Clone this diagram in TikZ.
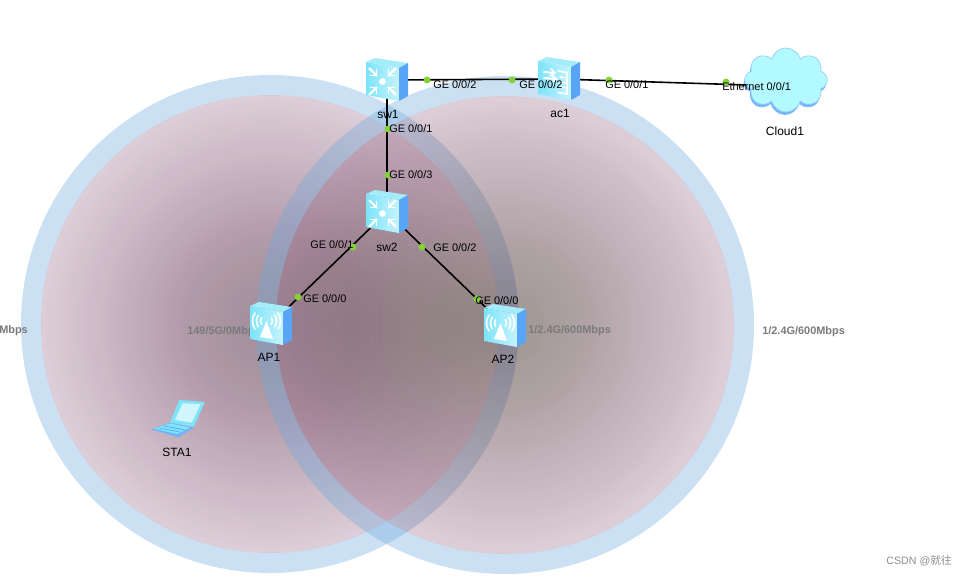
\documentclass[tikz,border=0pt]{standalone}
\usepackage{fontspec}
\setmainfont{Liberation Sans}
\newfontfamily\cjkfont{Noto Sans CJK SC}
\usetikzlibrary{shapes.symbols}
\definecolor{cellring}{RGB}{110,170,220}
\definecolor{cellbase}{RGB}{138,82,118}
\definecolor{cellwarm}{RGB}{92,56,78}
\definecolor{celldark}{RGB}{88,72,66}
\definecolor{portdot}{RGB}{130,212,52}
\definecolor{facefront}{RGB}{125,228,250}
\definecolor{facetop}{RGB}{165,236,250}
\definecolor{faceside}{RGB}{88,165,248}
\definecolor{cloudfill}{RGB}{178,250,255}
\definecolor{cloudedge}{RGB}{150,205,250}
\tikzset{
  devnode/.style={inner sep=0pt,minimum width=24.75pt,minimum height=27pt},
  port/.style={circle,fill=portdot,inner sep=0pt,minimum size=5.2pt},
  portlabel/.style={font=\fontsize{8.2pt}{9pt}\selectfont,inner sep=0pt,anchor=west},
  devlabel/.style={font=\fontsize{9pt}{10pt}\selectfont,inner sep=0pt},
  ratelabel/.style={font=\fontsize{8.2pt}{9pt}\selectfont\bfseries,text=black!52,inner sep=0pt,anchor=west},
  cloudshape/.style={cloud,cloud puffs=8,aspect=1.3,inner sep=0pt,minimum width=62pt,minimum height=48pt},
  link/.style={line width=1.2pt,black},
  glyph/.style={white,line width=1.2pt,line cap=round,line join=round},
  devbox/.pic={
    \fill[facetop] (-21,-18) -- (-12,-22) -- (21,-17) -- (12,-12) -- cycle;
    \shade[left color=facefront,right color=facefront!45!white] (-21,-18) -- (12,-12) -- (12,21) -- (-21,15) -- cycle;
    \fill[faceside] (12,-12) -- (21,-17) -- (21,16) -- (12,21) -- cycle;
  },
  swglyph/.pic={
    \fill[white] (-4.5,1.5) circle (3.4);
    \foreach \sx/\sy in {-1/-1,1/-1,-1/1,1/1} {
      \draw[glyph,line width=1.7pt] (-4.5+\sx*6,1.5+\sy*6) -- (-4.5+\sx*13,1.5+\sy*13);
      \draw[glyph] (-4.5+\sx*6,1.5+\sy*12) -- (-4.5+\sx*6,1.5+\sy*6) -- (-4.5+\sx*12,1.5+\sy*6);
    }
  },
  acglyph/.pic={
    \draw[glyph,line width=1.5pt] (-15,-7) -- (-5,-6) (-15,-1) -- (-3,0);
    \draw[glyph] (-8,-10) -- (-4,-6) -- (-9,-3) (-7,-3.5) -- (-2,0) -- (-7,3);
    \draw[glyph] (-1,-8) -- (8,-6.5) -- (8,15) -- (-1,13.5);
    \draw[glyph] (1,-2) -- (6,-1.2) (1,3) -- (6,3.8) (1,8) -- (6,8.8);
  },
  apglyph/.pic={
    \fill[white] (-4.5,-3) -- (2,15) -- (-11,13) -- cycle;
    \foreach \rr in {6,10,14} {
      \draw[glyph] (-4.5,-3) ++(-35:\rr) arc (-35:35:\rr);
      \draw[glyph] (-4.5,-3) ++(145:\rr) arc (145:215:\rr);
    }
  },
  laptop/.pic={
    \fill[facefront] (1.3,-18) -- (26.7,-16) -- (16,8.7) -- (-8,4.7) -- cycle;
    \fill[facefront!35!white] (4.7,-14.7) -- (22.7,-14) -- (13.7,4.7) -- (-3,2) -- cycle;
    \fill[faceside!85!white] (-26.7,11.3) -- (-8,4.7) -- (16,9.7) -- (0.3,19.3) -- cycle;
    \fill[facefront] (-24,10.6) -- (-8,5.4) -- (12,9.6) -- (-1,16) -- cycle;
    \draw[faceside,line width=0.5pt] (-19,10) -- (2,14) (-14,8) -- (7,12);
  },
}
\begin{document}
\begin{tikzpicture}[x=0.75pt,y=-0.75pt]
    \useasboundingbox (0,0) rectangle (967,576);
    % coverage areas
    \foreach \cx/\cy/\cc in {270/324/cellwarm,505/325/celldark} {
        \fill[cellring,fill opacity=0.36,even odd rule] (\cx,\cy) circle (249) (\cx,\cy) circle (229);
        \fill[cellbase,fill opacity=0.28] (\cx,\cy) circle (229);
        \foreach \k in {1,...,45}
            \fill[\cc,fill opacity=0.0125] (\cx,\cy) circle ({229*\k/45});
    }
    % rates
    \node[ratelabel] (rate0) at (-1,331) {Mbps};
    \node[ratelabel] (rate1) at (187,332) {149/5G/0Mbps};
    \node[ratelabel] (rate2) at (528,331) {1/2.4G/600Mbps};
    \node[ratelabel] (rate3) at (762,332) {1/2.4G/600Mbps};
    % devices
    \node[devnode] (sw1) at (387,80) {};
    \node[devnode] (sw2) at (387,212) {};
    \node[devnode] (ac1) at (559,79) {};
    \node[devnode] (AP1) at (271,324) {};
    \node[devnode] (AP2) at (505,326) {};
    \node[cloudshape,fill=faceside!80!white] (Cloud1shade) at (785,83) {};
    \node[cloudshape,fill=cloudfill,draw=cloudedge,line width=0.5pt] (Cloud1) at (786,80) {};
    % links
    \draw[link] (sw1) -- (ac1);
    \draw[link] (ac1) -- (Cloud1.187);
    \draw[link] (sw1) -- (sw2);
    \draw[link] (sw2) -- (AP1);
    \draw[link] (sw2) -- (AP2);
    \pic at (sw1) {devbox};
    \pic at (sw1) {swglyph};
    \pic at (sw2) {devbox};
    \pic at (sw2) {swglyph};
    \pic at (ac1) {devbox};
    \pic at (ac1) {acglyph};
    \pic at (AP1) {devbox};
    \pic at (AP1) {apglyph};
    \pic at (AP2) {devbox};
    \pic at (AP2) {apglyph};
    \node[inner sep=0pt,minimum size=20pt] (STA1) at (178,418) {};
    \pic at (STA1) {laptop};
    % ports
    \node[port] (p1) at (427,80) {};
    \node[port] (p2) at (512,80) {};
    \node[port] (p3) at (609,80) {};
    \node[port] (p4) at (726,82) {};
    \node[port] (p5) at (388,129) {};
    \node[port] (p6) at (388,175) {};
    \node[port] (p7) at (353,247) {};
    \node[port] (p8) at (298,297) {};
    \node[port] (p9) at (422,247) {};
    \node[port] (p10) at (477,299) {};
    % labels
    \node[portlabel] (l1) at (433,85) {GE 0/0/2};
    \node[portlabel] (l2) at (519,85) {GE 0/0/2};
    \node[portlabel] (l3) at (605,85) {GE 0/0/1};
    \node[portlabel] (l4) at (722,87) {Ethernet 0/0/1};
    \node[portlabel] (l5) at (389,129) {GE 0/0/1};
    \node[portlabel] (l6) at (389,175) {GE 0/0/3};
    \node[portlabel] (l7) at (310,245) {GE 0/0/1};
    \node[portlabel] (l8) at (303,299) {GE 0/0/0};
    \node[portlabel] (l9) at (433,248) {GE 0/0/2};
    \node[portlabel] (l10) at (475,301) {GE 0/0/0};
    \node[devlabel] (n1) at (388,114) {sw1};
    \node[devlabel] (n2) at (560,113) {ac1};
    \node[devlabel] (n3) at (785,131) {Cloud1};
    \node[devlabel] (n4) at (387,247) {sw2};
    \node[devlabel] (n5) at (269,357) {AP1};
    \node[devlabel] (n6) at (503,359) {AP2};
    \node[devlabel] (n7) at (177,452) {STA1};
    \node[font=\fontsize{8pt}{9pt}\selectfont,text=black!45,inner sep=0pt,anchor=east] (mark) at (952,561) {CSDN @{\cjkfont 就往}};
\end{tikzpicture}
\end{document}
